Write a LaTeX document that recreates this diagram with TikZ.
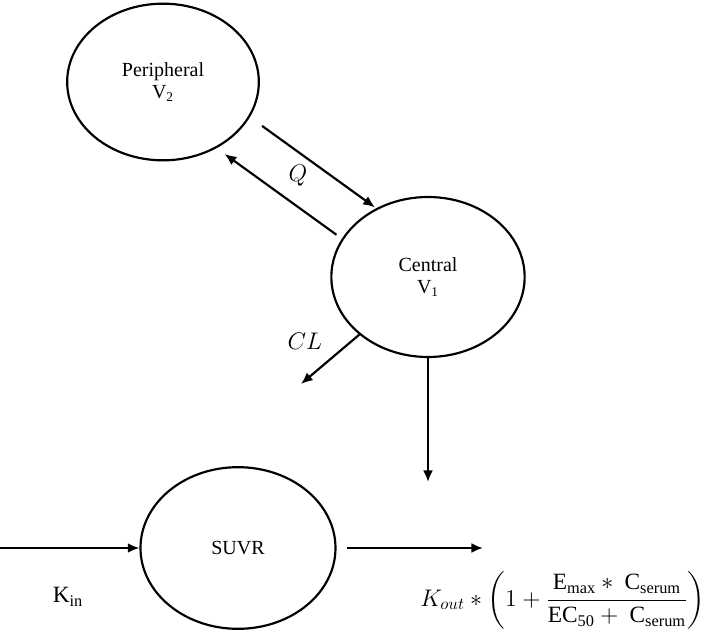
\documentclass[tikz,border=0pt]{standalone}
\usepackage{amsmath}
\usepackage{fontspec}
\setmainfont{Liberation Serif}
\usetikzlibrary{shapes.geometric,arrows.meta}
\tikzset{
  comp/.style={draw, ellipse, line width=1.3pt, align=center, minimum width=116pt, minimum height=96pt, font=\fontsize{12}{13.5}\selectfont},
  flow/.style={line width=1.3pt, -{Latex[length=7pt,width=6pt]}},
  lab/.style={font=\fontsize{14}{16}\selectfont}
}
\begin{document}
\begin{tikzpicture}[x=0.6pt, y=-0.6pt]
  \useasboundingbox (0,0) rectangle (709,632);
  \node[comp, minimum width=115pt, minimum height=94pt] (periph) at (163,82) {Peripheral\\V\textsubscript{2}};
  \node[comp] (central) at (428,277) {Central\\V\textsubscript{1}};
  \node[comp, minimum width=117pt, minimum height=97pt] (suvr) at (238,548) {SUVR};
  \coordinate (kinstart) at (0,548);
  \coordinate (clend) at (301,384);
  \coordinate (downend) at (428,482);
  \coordinate (outend) at (483,548);
  \draw[flow, shorten <=9pt, shorten >=1pt] (periph.-22) -- (central.127);
  \draw[flow, shorten <=4pt, shorten >=6pt] (central.156.5) -- (periph.-51);
  \draw[flow] (central.220) -- (clend);
  \draw[flow] (central.south) -- (downend);
  \draw[flow] (kinstart) -- (suvr.west);
  \draw[flow, shorten <=6pt] (suvr.east) -- (outend);
  \node[lab] (qlab) at (298,176) {$Q$};
  \node[lab] (cllab) at (305,341) {$CL$};
  \node[lab] (kinlab) at (68,597) {$\mathrm{K_{in}}$};
  \node[lab, anchor=east, inner sep=0pt] (koutlab) at (706,600) {$K_{out} * \left(1+\dfrac{\mathrm{E_{max}} *\ \mathrm{C_{serum}}}{\mathrm{EC_{50}}+\ \mathrm{C_{serum}}}\right)$};
\end{tikzpicture}
\end{document}
